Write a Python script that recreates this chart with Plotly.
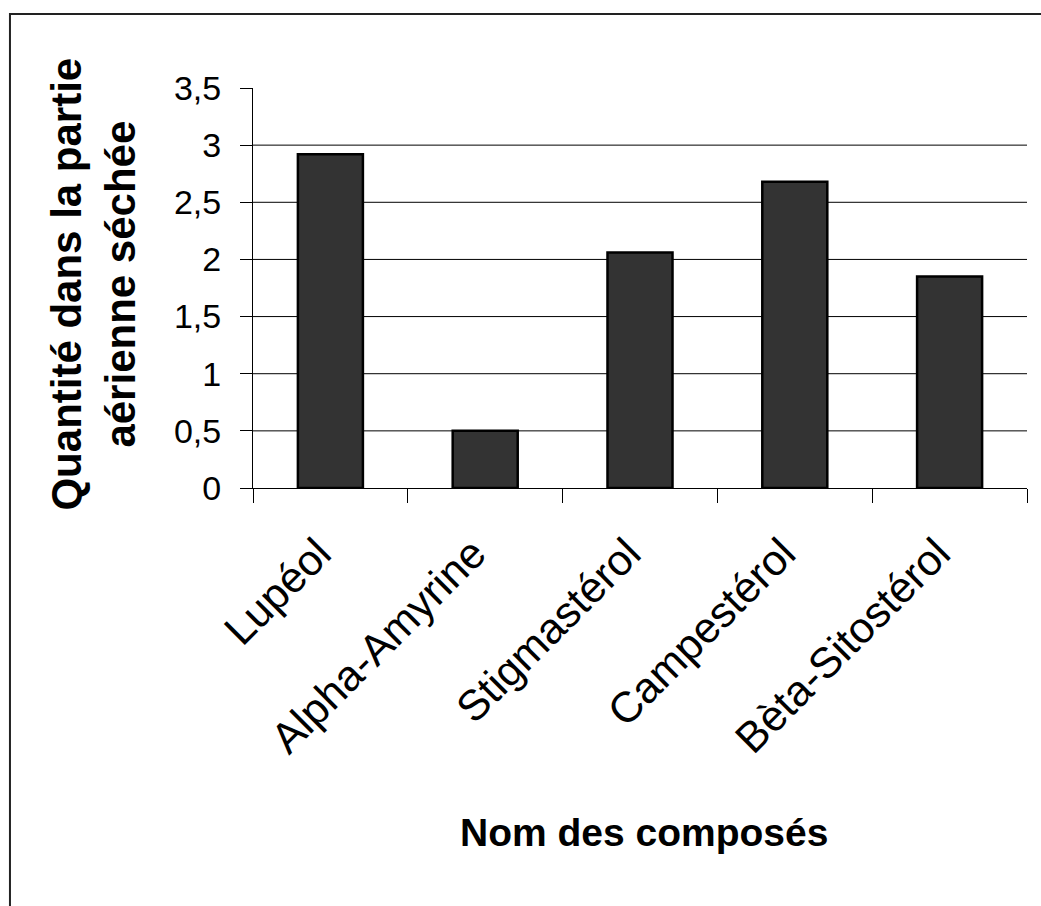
import plotly.graph_objects as go

# Quantities of triterpenes / sterols in the dried aerial part
categories = ["Lupéol", "Alpha-Amyrine", "Stigmastérol", "Campestérol", "Bèta-Sitostérol"]
quantities = [2.92, 0.5, 2.06, 2.68, 1.85]

y_ticks = [0, 0.5, 1, 1.5, 2, 2.5, 3, 3.5]
y_tick_text = ["0", "0,5", "1", "1,5", "2", "2,5", "3", "3,5"]
grid_values = [0.5, 1, 1.5, 2, 2.5, 3]

FONT = "Liberation Sans, Arial, sans-serif"

fig = go.Figure(
    go.Bar(
        x=categories,
        y=quantities,
        marker=dict(color="#333333", line=dict(color="#000000", width=2.5)),
        width=0.42,
    )
)

# horizontal gridlines (none at the top of the axis)
shapes = [
    dict(type="line", xref="paper", x0=0, x1=1, yref="y", y0=v, y1=v,
         line=dict(color="#000000", width=1), layer="below")
    for v in grid_values
]
# outer frame of the chart area
shapes.append(dict(type="rect", xref="paper", yref="paper",
                   x0=-0.314, x1=1.2, y0=-1.3, y1=1.185,
                   line=dict(color="#222222", width=2), fillcolor="rgba(0,0,0,0)"))

fig.update_layout(
    width=1041,
    height=906,
    margin=dict(l=253, r=14, t=88, b=418),
    paper_bgcolor="white",
    plot_bgcolor="white",
    showlegend=False,
    font=dict(family=FONT, color="#000000"),
    shapes=shapes,
    xaxis=dict(
        type="category",
        tickson="boundaries",
        ticks="outside",
        ticklen=14,
        tickwidth=1,
        tickcolor="#000000",
        showline=True,
        linecolor="#000000",
        linewidth=1,
        showgrid=False,
        tickangle=-45,
        ticklabelstandoff=22,
        ticklabelshift=-12,
        tickfont=dict(size=43, family=FONT),
    ),
    yaxis=dict(
        range=[0, 3.5],
        tickvals=y_ticks,
        ticktext=y_tick_text,
        ticks="outside",
        ticklen=12,
        tickwidth=1,
        tickcolor="#000000",
        showline=True,
        linecolor="#000000",
        linewidth=1,
        showgrid=False,
        zeroline=False,
        ticklabelstandoff=12,
        tickfont=dict(size=34, family=FONT),
    ),
    annotations=[
        dict(text="<b>Quantité dans la partie<br>aérienne séchée</b>",
             xref="paper", yref="paper", x=-0.206, y=0.51,
             xanchor="center", yanchor="middle",
             textangle=-90, showarrow=False,
             font=dict(size=42, family=FONT, color="#000000")),
        dict(text="<b>Nom des composés</b>",
             xref="paper", yref="paper", x=0.505, y=-0.86,
             xanchor="center", yanchor="middle",
             showarrow=False,
             font=dict(size=39, family=FONT, color="#000000")),
    ],
)

fig.write_html("out.html")
